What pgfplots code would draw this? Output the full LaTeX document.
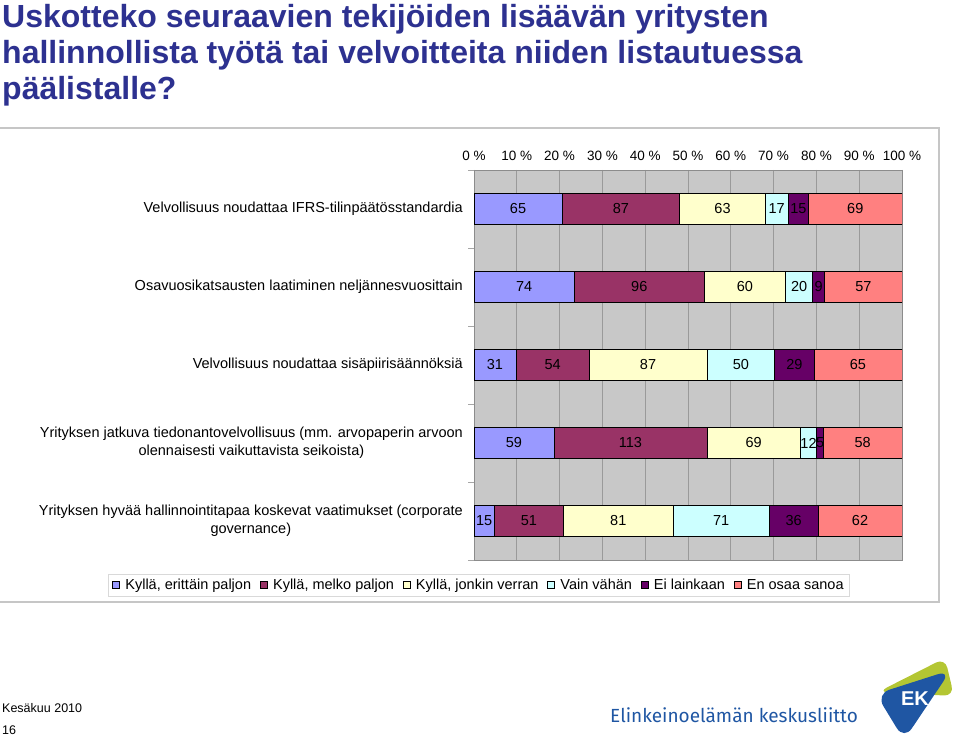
\documentclass[border=0pt]{standalone}
\usepackage{pgfplots}
\pgfplotsset{compat=1.18}
\usepackage{pgfplotstable}
\usepackage{fontspec}
\setmainfont{Liberation Sans}
\newfontfamily\ekfont{Fira Sans}
\definecolor{cA}{HTML}{9999FF}
\definecolor{cB}{HTML}{993366}
\definecolor{cC}{HTML}{FFFFCC}
\definecolor{cD}{HTML}{CCFFFF}
\definecolor{cE}{HTML}{660066}
\definecolor{cF}{HTML}{FF8080}
\definecolor{titleblue}{HTML}{2D3190}
\definecolor{plotbg}{HTML}{C8C8C8}
\definecolor{gridc}{HTML}{9A9A9A}
\definecolor{ekblue}{HTML}{1F56A3}
\definecolor{ekgreen}{HTML}{B4C633}

\pgfplotstableread{
row a b c d e f tot
0 65 87 63 17 15 69 316
1 74 96 60 20 9 57 316
2 31 54 87 50 29 65 316
3 59 113 69 12 5 58 316
4 15 51 81 71 36 62 316
}\data

\pgfplotsset{
  common/.style={
    at={(474pt,184pt)}, anchor=south west,
    width=428pt, height=390pt, scale only axis,
    xmin=0, xmax=100,
    ymin=-0.5, ymax=4.5, y dir=reverse,
  },
  lbl/.style={only marks, mark=*, mark size=0pt, mark options={draw=none, fill=none},
    nodes near coords, point meta=explicit,
    every node near coord/.style={font=\fontsize{14.5}{16}\selectfont, text=black, anchor=center, inner sep=0pt}},
}

\begin{document}
\begin{tikzpicture}
\useasboundingbox (0,0) rectangle (960pt,744pt);
% title
\begin{scope}[every node/.style={anchor=base west, inner sep=0pt, text=titleblue, font=\fontsize{32}{36}\selectfont\bfseries}]
\node at (2pt,716pt) {Uskotteko seuraavien tekijöiden lisäävän yritysten};
\node at (2pt,680pt) {hallinnollista työtä tai velvoitteita niiden listautuessa};
\node at (2pt,644pt) {päälistalle?};
\end{scope}
% chart area frame
\draw[gray!45, line width=1.2pt] (0pt,616pt) -- (939pt,616pt) -- (939pt,142pt) -- (0pt,142pt);

\begin{axis}[
  common,
  xbar stacked, bar width=31pt,
  axis background/.style={fill=plotbg},
  axis line style={draw=gray!90},
  xtick={0,10,...,100},
  xticklabels={0 \%,10 \%,20 \%,30 \%,40 \%,50 \%,60 \%,70 \%,80 \%,90 \%,100 \%},
  xticklabel pos=upper,
  xmajorgrids, major grid style={draw=gridc, line width=0.8pt},
  ytick={0,1,2,3,4},
  yticklabels={Velvollisuus noudattaa IFRS-tilinpäätösstandardia,
    Osavuosikatsausten laatiminen neljännesvuosittain,
    Velvollisuus noudattaa sisäpiirisäännöksiä,
    {Yrityksen jatkuva tiedonantovelvollisuus (mm. arvopaperin arvoon\\olennaisesti vaikuttavista seikoista)},
    {Yrityksen hyvää hallinnointitapaa koskevat vaatimukset (corporate\\governance)}},
  minor ytick={-0.5,0.5,...,4.5},
  major tick length=0pt, minor tick length=6pt, tick align=outside,
  ytick pos=left,
  minor tick style={draw=gray!70},
  y tick label style={align=center, inner sep=0pt, xshift=-11pt, font=\fontsize{14.5}{18}\selectfont},
  x tick label style={inner sep=0pt, yshift=9pt, font=\fontsize{13.5}{15}\selectfont},
  legend image code/.code={\draw[#1, draw=black, line width=0.5pt] (1pt,-3.5pt) rectangle (8pt,3.5pt);},
  legend columns=6,
  legend style={at={(0.0117,-0.064)}, anchor=center, draw=gray!30, fill=white, line width=0.8pt,
    font=\fontsize{14.5}{16}\selectfont, inner xsep=4pt, inner ysep=3pt,
    /tikz/every odd column/.append style={column sep=3.5pt},
    /tikz/every even column/.append style={column sep=7pt}},
  legend cell align=left,
]
\addplot[fill=cA, draw=black, line width=0.8pt] table[x expr=\thisrow{a}/\thisrow{tot}*100, y=row] {\data};
\addplot[fill=cB, draw=black, line width=0.8pt] table[x expr=\thisrow{b}/\thisrow{tot}*100, y=row] {\data};
\addplot[fill=cC, draw=black, line width=0.8pt] table[x expr=\thisrow{c}/\thisrow{tot}*100, y=row] {\data};
\addplot[fill=cD, draw=black, line width=0.8pt] table[x expr=\thisrow{d}/\thisrow{tot}*100, y=row] {\data};
\addplot[fill=cE, draw=black, line width=0.8pt] table[x expr=\thisrow{e}/\thisrow{tot}*100, y=row] {\data};
\addplot[fill=cF, draw=black, line width=0.8pt] table[x expr=\thisrow{f}/\thisrow{tot}*100, y=row] {\data};
\legend{{Kyllä, erittäin paljon}, {Kyllä, melko paljon}, {Kyllä, jonkin verran}, Vain vähän, Ei lainkaan, En osaa sanoa}
\end{axis}

% value labels, centred in each segment
\begin{axis}[common, hide axis, clip=false, /pgf/number format/assume math mode=true]
\addplot[lbl] table[x expr=(\thisrow{a}/2)/\thisrow{tot}*100, y=row, meta=a] {\data};
\addplot[lbl] table[x expr=(\thisrow{a}+\thisrow{b}/2)/\thisrow{tot}*100, y=row, meta=b] {\data};
\addplot[lbl] table[x expr=(\thisrow{a}+\thisrow{b}+\thisrow{c}/2)/\thisrow{tot}*100, y=row, meta=c] {\data};
\addplot[lbl] table[x expr=(\thisrow{a}+\thisrow{b}+\thisrow{c}+\thisrow{d}/2)/\thisrow{tot}*100, y=row, meta=d] {\data};
\addplot[lbl] table[x expr=(\thisrow{a}+\thisrow{b}+\thisrow{c}+\thisrow{d}+\thisrow{e}/2)/\thisrow{tot}*100, y=row, meta=e] {\data};
\addplot[lbl] table[x expr=(\thisrow{tot}-\thisrow{f}/2)/\thisrow{tot}*100, y=row, meta=f] {\data};
\end{axis}

% footer
\node[anchor=base west, inner sep=0pt, font=\fontsize{12.5}{14}\selectfont] at (2pt,32pt) {Kesäkuu 2010};
\node[anchor=base west, inner sep=0pt, font=\fontsize{12.5}{14}\selectfont] at (2pt,10pt) {16};
% EK logo
\node[anchor=base west, inner sep=0pt, text=ekblue, font=\ekfont\fontsize{19}{22}\selectfont] at (610pt,22pt) {Elinkeinoelämän keskusliitto};
\fill[ekgreen, rounded corners=10pt] (878pt,52pt) -- (945pt,86pt) -- (954pt,48pt) -- cycle;
\fill[ekblue, rounded corners=14pt] (876pt,50pt) -- (951pt,74pt) -- (904pt,4pt) -- cycle;
\node[text=white, font=\bfseries\fontsize{20}{22}\selectfont, inner sep=0pt] at (915pt,45pt) {EK};
\end{tikzpicture}
\end{document}
